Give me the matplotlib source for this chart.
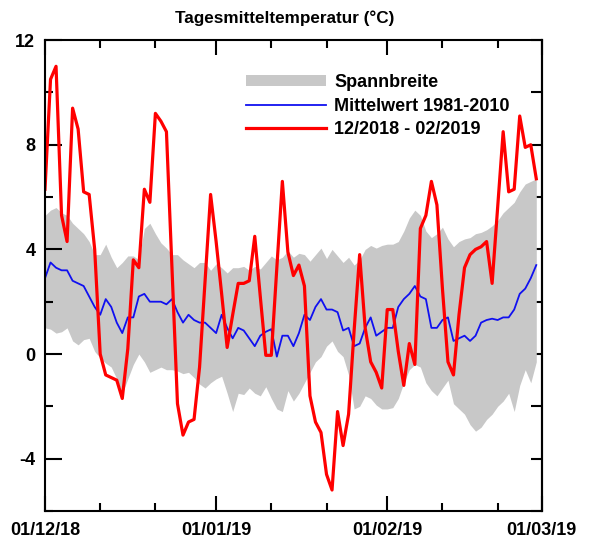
import numpy as np
import pandas as pd
import matplotlib
matplotlib.use('Agg')
import matplotlib.pyplot as plt
import matplotlib.dates as mdates
from matplotlib.patches import Patch
from matplotlib.lines import Line2D

plt.rcParams['font.family'] = ['Liberation Sans', 'DejaVu Sans']
plt.rcParams['font.weight'] = 'bold'
plt.rcParams['axes.unicode_minus'] = False

# daily values, 01/12/2018 - 28/02/2019
dates = pd.date_range('2018-12-01', periods=90, freq='D')

# Winter 2018/19
temp_1819 = [6.3, 10.5, 11.0, 5.3, 4.3, 9.4, 8.6, 6.2, 6.1, 4.0,
             0.0, -0.8, -0.9, -1.0, -1.7, 0.2, 3.6, 3.3, 6.3, 5.8,
             9.2, 8.9, 8.5, 3.3, -1.9, -3.1, -2.6, -2.5, -0.5, 2.8,
             6.1, 4.3, 2.3, 0.25, 1.5, 2.7, 2.7, 2.8, 4.5, 2.2,
             -0.05, -0.05, 3.3, 6.6, 3.9, 3.0, 3.4, 2.6, -1.6, -2.6,
             -3.0, -4.6, -5.2, -2.2, -3.5, -2.3, 0.9, 3.8, 1.0, -0.3,
             -0.7, -1.3, 1.7, 1.7, 0.1, -1.2, 0.4, -0.4, 4.8, 5.3,
             6.6, 5.7, 2.5, -0.3, -0.8, 1.5, 3.3, 3.8, 4.0, 4.1,
             4.3, 2.7, 5.6, 8.5, 6.2, 6.3, 9.1, 7.9, 8.0, 6.7]

# Mittelwert 1981-2010
temp_mean = [2.9, 3.5, 3.3, 3.2, 3.2, 2.8, 2.7, 2.6, 2.2, 1.8,
             1.5, 2.1, 1.8, 1.2, 0.8, 1.4, 1.4, 2.2, 2.3, 2.0,
             2.0, 2.0, 1.9, 2.1, 1.6, 1.2, 1.5, 1.3, 1.2, 1.2,
             1.0, 0.8, 1.5, 1.0, 0.6, 1.0, 0.9, 0.6, 0.3, 0.7,
             0.85, 0.95, -0.1, 0.7, 0.7, 0.3, 0.8, 1.5, 1.3, 1.8,
             2.1, 1.7, 1.7, 1.6, 0.9, 1.0, 0.3, 0.4, 1.0, 1.4,
             0.7, 0.85, 1.0, 1.0, 1.8, 2.1, 2.3, 2.6, 2.2, 2.1,
             1.0, 1.0, 1.3, 1.4, 0.5, 0.6, 0.7, 0.5, 0.7, 1.2,
             1.3, 1.35, 1.3, 1.4, 1.4, 1.7, 2.3, 2.5, 2.9, 3.4]

# Spannbreite (upper / lower edge)
range_hi = [5.3, 5.5, 5.6, 5.4, 5.3, 5.0, 4.8, 4.6, 4.3, 3.8,
            3.8, 4.2, 3.7, 3.3, 3.5, 3.75, 3.75, 3.6, 4.8, 5.0,
            4.6, 4.25, 4.05, 3.8, 3.8, 3.6, 3.45, 3.3, 3.5, 3.5,
            3.2, 3.45, 3.3, 3.1, 3.3, 3.3, 3.35, 3.2, 3.35, 3.25,
            3.5, 3.75, 3.6, 3.7, 3.95, 3.7, 3.85, 3.8, 3.55, 3.8,
            4.05, 3.65, 4.0, 3.75, 3.5, 3.7, 3.4, 3.6, 4.0, 4.15,
            4.05, 4.15, 4.2, 4.2, 4.3, 4.7, 5.2, 5.5, 5.3, 4.7,
            4.45, 4.6, 4.85, 4.4, 4.1, 4.3, 4.4, 4.45, 4.6, 4.65,
            4.75, 4.9, 5.1, 5.4, 5.6, 5.8, 6.2, 6.5, 6.6, 6.7]
range_lo = [1.0, 0.95, 0.8, 0.85, 1.0, 0.5, 0.35, 0.55, 0.6, 0.1,
            -0.15, -0.35, -0.5, -0.95, -1.5, -0.95, -0.4, 0.0, -0.3, -0.7,
            -0.6, -0.5, -0.6, -0.6, -0.65, -0.75, -0.7, -0.9, -1.15, -1.3,
            -1.1, -0.95, -0.85, -1.5, -2.2, -1.5, -1.55, -1.3, -1.5, -1.6,
            -1.25, -1.7, -2.1, -2.2, -1.4, -1.8, -1.5, -1.1, -0.7, -0.3,
            -0.1, 0.3, 0.5, 0.1, -0.1, -0.8, -2.1, -2.0, -1.6, -1.7,
            -1.95, -2.1, -2.1, -2.05, -1.7, -1.1, -0.6, -0.4, -0.5, -1.1,
            -1.4, -1.6, -1.3, -1.0, -1.9, -2.1, -2.3, -2.7, -2.95, -2.8,
            -2.5, -2.3, -2.0, -1.8, -1.5, -2.2, -1.2, -0.6, -1.1, -0.3]

legend_labels = ['Spannbreite', 'Mittelwert 1981-2010', '12/2018 - 02/2019']

fig = plt.figure(figsize=(6, 5.5), dpi=100)
ax = fig.add_axes([0.075, 0.071, 0.828, 0.856])

ax.fill_between(dates, range_lo, range_hi, color='#c8c8c8', linewidth=0)
ax.plot(dates, temp_mean, color='#1010f0', linewidth=1.3)
ax.plot(dates, temp_1819, color='#ff0000', linewidth=2.3)

ax.set_xlim(pd.Timestamp('2018-12-01'), pd.Timestamp('2019-03-01'))
ax.set_ylim(-6, 12)

# x axis: month starts labelled, 11th and 21st as short ticks
ax.xaxis.set_major_locator(mdates.MonthLocator())
ax.xaxis.set_major_formatter(mdates.DateFormatter('%d/%m/%y'))
ax.xaxis.set_minor_locator(mdates.DayLocator(bymonthday=[11, 21]))
ax.set_yticks([-4, 0, 4, 8, 12])
ax.set_yticks([-6, -2, 2, 6, 10], minor=True)

ax.tick_params(axis='x', which='both', direction='in', top=True, width=1.5,
               labelsize=13, pad=8)
ax.tick_params(axis='x', which='major', length=11)
ax.tick_params(axis='x', which='minor', length=6)
ax.tick_params(axis='y', which='both', direction='in', right=False, width=1.5,
               labelsize=13, pad=7)
ax.tick_params(axis='y', which='major', length=12)
ax.tick_params(axis='y', which='minor', length=6)
for lab in ax.get_xticklabels() + ax.get_yticklabels():
    lab.set_fontweight('bold')

# right side: evenly spaced ticks, no labels
ax_r = ax.secondary_yaxis('right')
ax_r.set_yticks(np.arange(-6, 13, 2))
ax_r.tick_params(direction='in', length=8, width=1.5, labelright=False)

for sp in list(ax.spines.values()) + list(ax_r.spines.values()):
    sp.set_linewidth(1.5)

handles = [Patch(facecolor='#c8c8c8', edgecolor='none'),
           Line2D([], [], color='#1010f0', linewidth=1.3),
           Line2D([], [], color='#ff0000', linewidth=2.3)]
ax.legend(handles, legend_labels, loc='upper left', bbox_to_anchor=(0.405, 0.928),
          frameon=False, prop={'weight': 'bold', 'size': 13},
          handlelength=4.44, handleheight=0.55, handletextpad=0.44,
          labelspacing=0.36, borderpad=0, borderaxespad=0)

fig.text(0.475, 1 - 18 / 550, 'Tagesmitteltemperatur (°C)', ha='center', va='center',
         fontsize=12.3, fontweight='bold')

fig.savefig('out.png', dpi=100)
